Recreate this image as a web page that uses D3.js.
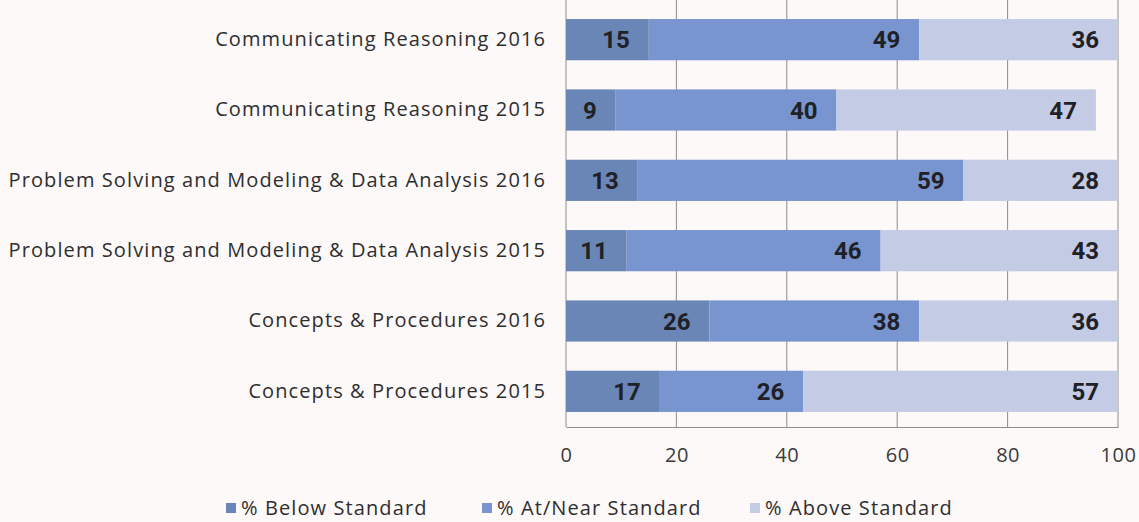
<!DOCTYPE html>
<html>
<head>
<meta charset="utf-8">
<script src="https://cdn.jsdelivr.net/npm/d3@7/dist/d3.min.js"></script>
<style>
  html, body { margin: 0; padding: 0; background: #fdf9f9; }
  svg { display: block; }
</style>
</head>
<body>
<svg id="chart" width="1139" height="522"></svg>
<script>
const categories = [
  "Communicating Reasoning 2016",
  "Communicating Reasoning 2015",
  "Problem Solving and Modeling & Data Analysis 2016",
  "Problem Solving and Modeling & Data Analysis 2015",
  "Concepts & Procedures 2016",
  "Concepts & Procedures 2015"
];
const seriesNames = ["% Below Standard", "% At/Near Standard", "% Above Standard"];
const belowStandard = [15, 9, 13, 11, 26, 17];
const atNearStandard = [49, 40, 59, 46, 38, 26];
const aboveStandard = [36, 47, 28, 43, 36, 57];
const xTicks = [0, 20, 40, 60, 80, 100];

const colors = ["#6a86b6", "#7895cf", "#c4cce5"];

const rows = categories.map((c, i) => ({
  cat: c, b: belowStandard[i], a: atNearStandard[i], u: aboveStandard[i]
}));

const svg = d3.select("#chart");
const x = d3.scaleLinear().domain([0, 100]).range([566, 1118]);
const y = d3.scaleBand().domain(categories).range([4.5, 426.5])
  .paddingInner(0.414).paddingOuter(0.207);
const plotBottom = 427;
const textFont = "Open Sans";

// gridlines
svg.append("g").selectAll("line").data(xTicks).join("line")
  .attr("x1", d => x(d)).attr("x2", d => x(d))
  .attr("y1", 0).attr("y2", plotBottom)
  .attr("stroke", "#8c8c8c").attr("stroke-width", 1);

// bottom axis
const xAxis = d3.axisBottom(x).tickValues(xTicks).tickSize(0).tickPadding(21);
const ax = svg.append("g").attr("transform", `translate(0,${plotBottom})`).call(xAxis);
ax.select(".domain").attr("stroke", "#8c8c8c");
ax.selectAll("text").attr("font-family", textFont).attr("font-size", 20)
  .attr("letter-spacing", "0.5px").attr("fill", "#3a3a3a");

// stack
const stack = d3.stack().keys(["b", "a", "u"]);
const stacked = stack(rows);

const layers = svg.append("g").selectAll("g").data(stacked).join("g")
  .attr("fill", (d, i) => colors[i]);

layers.selectAll("rect").data(d => d).join("rect")
  .attr("x", d => x(d[0]))
  .attr("width", d => x(d[1]) - x(d[0]))
  .attr("y", d => y(d.data.cat))
  .attr("height", y.bandwidth());

// value labels
const labelG = svg.append("g");
stacked.forEach(layer => {
  labelG.selectAll(null).data(layer).join("text")
    .attr("x", d => x(d[1]) - 19)
    .attr("y", d => y(d.data.cat) + y.bandwidth() / 2)
    .attr("dy", "0.36em")
    .attr("text-anchor", "end")
    .attr("font-family", "Roboto")
    .attr("font-weight", 700)
    .attr("font-size", 24)
    .attr("fill", "#1f2126")
    .text(d => d.data[layer.key]);
});

// category labels
const yAxis = d3.axisLeft(y).tickSize(0).tickPadding(20);
const ay = svg.append("g").attr("transform", `translate(${x(0)},0)`).call(yAxis);
ay.select(".domain").remove();
ay.selectAll("text").attr("font-family", textFont).attr("font-size", 20)
  .attr("letter-spacing", "1.1px").attr("fill", "#2e2e2e");

// legend
const legendX = [226, 482, 750];
const legend = svg.append("g").selectAll("g").data(seriesNames).join("g")
  .attr("transform", (d, i) => `translate(${legendX[i]},508)`);
legend.append("rect").attr("x", 0).attr("y", -5).attr("width", 10).attr("height", 10)
  .attr("fill", (d, i) => colors[i]);
legend.append("text").attr("x", 15).attr("y", 0).attr("dy", "0.35em")
  .attr("font-family", textFont).attr("font-size", 20).attr("letter-spacing", "1.1px")
  .attr("fill", "#2e2e2e")
  .text(d => d);
</script>
</body>
</html>
